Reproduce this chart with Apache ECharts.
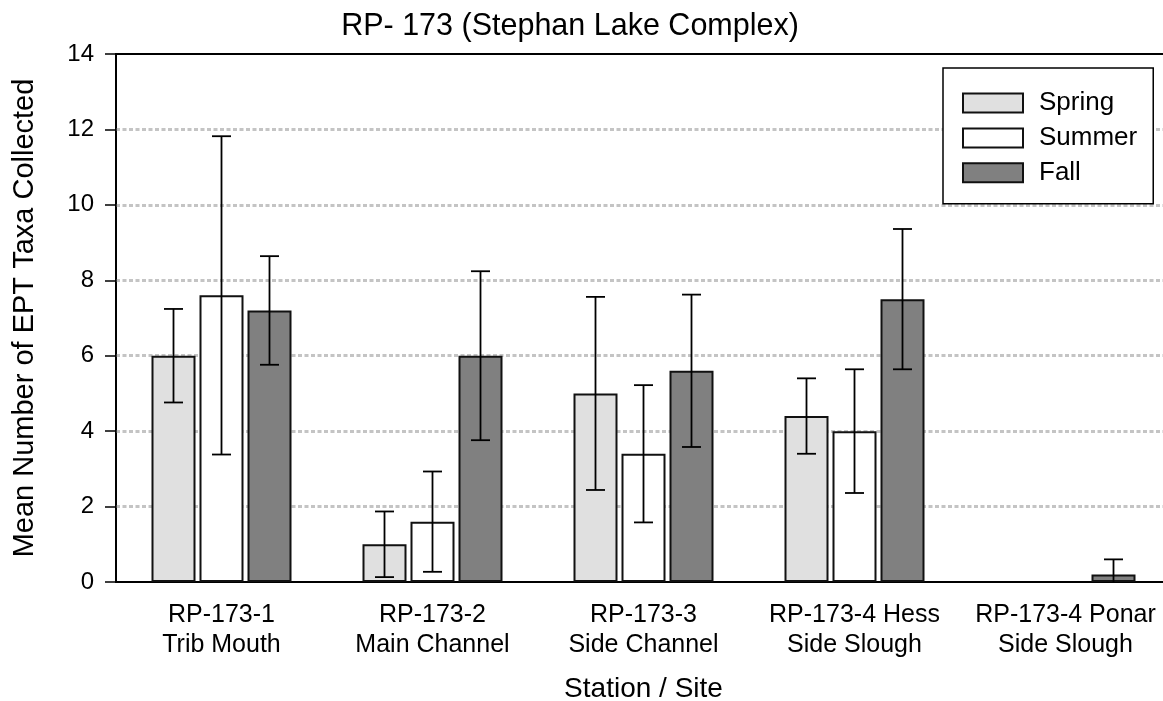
<!DOCTYPE html>
<html>
<head>
<meta charset="utf-8">
<script src="https://cdn.jsdelivr.net/npm/echarts@6/dist/echarts.min.js"></script>
<style>
  html, body { margin: 0; padding: 0; background: #fff; }
  #chart { width: 1163px; height: 701px; }
</style>
</head>
<body>
<div id="chart"></div>
<script>
// Stations sampled at RP-173
const categories = [
  'RP-173-1\nTrib Mouth',
  'RP-173-2\nMain Channel',
  'RP-173-3\nSide Channel',
  'RP-173-4 Hess\nSide Slough',
  'RP-173-4 Ponar\nSide Slough'
];
const seasons = ['Spring', 'Summer', 'Fall'];

// Mean EPT taxa per season and the half-length of each error bar
const springMean = [6.0, 1.0, 5.0, 4.4, null];
const springErr  = [1.24, 0.87, 2.56, 1.0, null];
const summerMean = [7.6, 1.6, 3.4, 4.0, null];
const summerErr  = [4.22, 1.33, 1.82, 1.64, null];
const fallMean   = [7.2, 6.0, 5.6, 7.5, 0.2];
const fallErr    = [1.44, 2.24, 2.02, 1.86, 0.4];

const yTicks = [0, 2, 4, 6, 8, 10, 12, 14];

const FONT = "'Liberation Sans', Arial, Helvetica, sans-serif";
const BAR_W = 44;
const BAR_GAP = 4;
const CAP_HALF = 9.5;
const fills = ['#e0e0e0', '#ffffff', '#808080'];

const means = [springMean, summerMean, fallMean];
const errs = [springErr, summerErr, fallErr];

const chart = echarts.init(document.getElementById('chart'), null, { renderer: 'canvas' });

const barSeries = seasons.map((name, i) => ({
  name: name,
  type: 'bar',
  data: means[i].map(v => (v === null ? '-' : v)),
  barWidth: BAR_W,
  barGap: (BAR_GAP / BAR_W * 100) + '%',
  itemStyle: { color: fills[i], borderColor: '#111', borderWidth: 2 },
  emphasis: { disabled: true },
  z: 2
}));

// Error bars centred on each bar; the lower whisker stops at the axis floor
const errSeries = seasons.map((name, i) => ({
  name: name + ' error',
  type: 'custom',
  z: 4,
  silent: true,
  data: means[i].map((v, k) => (v === null ? null : [k, v, errs[i][k]])).filter(d => d),
  encode: { x: 0, y: 1 },
  renderItem: function (params, api) {
    const ci = api.value(0);
    const v = api.value(1);
    const e = api.value(2);
    const off = (i - 1) * (BAR_W + BAR_GAP);
    const x = api.coord([ci, v])[0] + off;
    const yTop = api.coord([ci, v + e])[1];
    const lower = Math.max(v - e, yTicks[0]);
    const yBot = api.coord([ci, lower])[1];
    const style = { stroke: '#000', lineWidth: 1.8 };
    const parts = [
      { type: 'line', shape: { x1: x, y1: yTop, x2: x, y2: yBot }, style: style },
      { type: 'line', shape: { x1: x - CAP_HALF, y1: yTop, x2: x + CAP_HALF, y2: yTop }, style: style }
    ];
    if (v - e > yTicks[0]) {
      parts.push({ type: 'line', shape: { x1: x - CAP_HALF, y1: yBot, x2: x + CAP_HALF, y2: yBot }, style: style });
    }
    return { type: 'group', children: parts };
  }
}));

const option = {
  animation: false,
  backgroundColor: '#fff',
  textStyle: { fontFamily: FONT },
  graphic: [{
    type: 'text',
    x: 570,
    y: 11,
    style: {
      text: 'RP- 173 (Stephan Lake Complex)',
      font: '30.5px ' + FONT,
      fill: '#000',
      textAlign: 'center',
      textVerticalAlign: 'top'
    }
  }],
  grid: {
    left: 116,
    top: 54,
    width: 1055,
    height: 528,
    outerBoundsMode: 'none',
    containLabel: false,
    show: true,
    borderColor: '#000',
    borderWidth: 2,
    backgroundColor: 'transparent'
  },
  legend: {
    data: seasons,
    orient: 'vertical',
    left: 943,
    top: 68,
    padding: [22, 16, 18, 19],
    itemWidth: 60,
    itemHeight: 19,
    itemGap: 8.9,
    backgroundColor: '#fff',
    borderColor: '#000',
    borderWidth: 1.5,
    borderRadius: 0,
    icon: 'rect',
    selectedMode: false,
    itemStyle: { borderColor: '#111', borderWidth: 2 },
    textStyle: { fontSize: 26, color: '#000', fontFamily: FONT, padding: [0, 0, 0, 11] }
  },
  xAxis: {
    type: 'category',
    data: categories,
    boundaryGap: true,
    name: 'Station / Site',
    nameLocation: 'middle',
    nameGap: 93,
    nameTextStyle: { fontSize: 28, color: '#000', fontFamily: FONT },
    axisLine: { lineStyle: { color: '#000', width: 2 } },
    axisTick: { alignWithLabel: true, length: 8, lineStyle: { color: '#000', width: 1.5 } },
    axisLabel: { fontSize: 25, color: '#000', lineHeight: 30, margin: 18, fontFamily: FONT, interval: 0 },
    splitLine: { show: false }
  },
  yAxis: {
    type: 'value',
    min: yTicks[0],
    max: yTicks[yTicks.length - 1],
    interval: yTicks[1] - yTicks[0],
    name: 'Mean Number of EPT Taxa Collected',
    nameLocation: 'middle',
    nameGap: 77,
    nameTextStyle: { fontSize: 29, color: '#000', fontFamily: FONT },
    axisLine: { show: true, lineStyle: { color: '#000', width: 1.5 } },
    axisTick: { show: true, inside: false, length: 11, lineStyle: { color: '#000', width: 1.5 } },
    axisLabel: { fontSize: 24, color: '#000', margin: 22, fontFamily: FONT },
    splitLine: {
      show: true,
      showMinLine: false,
      showMaxLine: false,
      lineStyle: { color: '#c4c4c4', width: 3, type: [4, 2.5] }
    }
  },
  series: barSeries.concat(errSeries)
};

chart.setOption(option);
</script>
</body>
</html>
